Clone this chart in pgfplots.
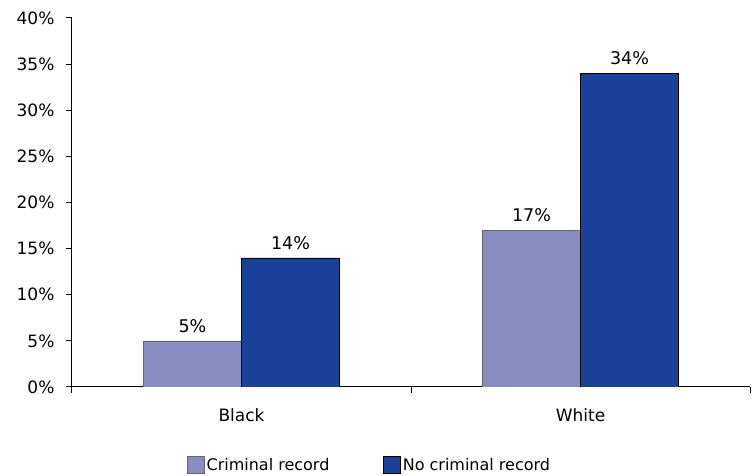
\documentclass[border=0pt]{standalone}
\usepackage{pgfplots}
\pgfplotsset{compat=1.18}
\usepackage{fontspec}
\setmainfont{DejaVu Sans}
\definecolor{crim}{HTML}{8A8DC2}
\definecolor{nocrim}{HTML}{1B4299}
\begin{document}
\begin{tikzpicture}[x=1pt,y=1pt]
\begin{axis}[
  scale only axis,
  width=678pt, height=369pt,
  xmin=-0.5, xmax=1.5,
  ymin=0, ymax=40,
  ytick={0,5,...,40},
  yticklabel={\pgfmathprintnumber{\tick}\%},
  xtick={0,1},
  xticklabels={Black,White},
  minor xtick={-0.5,0.5,1.5},
  major x tick style={draw=none},
  minor x tick style={black, line width=1pt},
  tick align=outside,
  xtick pos=bottom, ytick pos=left,
  major tick length=6pt, minor tick length=6pt,
  y tick style={black, line width=1pt},
  axis x line*=bottom, axis y line*=left,
  axis line style={black, line width=1pt},
  ticklabel style={font=\fontsize{17}{20}\selectfont},
  xticklabel style={font=\fontsize{17}{20}\selectfont, yshift=-12pt},
  yticklabel style={xshift=-8pt},
  /pgf/number format/assume math mode=true,
  ybar=0pt, bar width=98pt,
  enlargelimits=false,
  nodes near coords={\pgfmathprintnumber{\pgfplotspointmeta}\%},
  nodes near coords style={font=\fontsize{17.5}{20}\selectfont, yshift=5pt},
  legend style={at={(0.439,-0.211)}, anchor=center, draw=none,
    font=\fontsize{16}{19}\selectfont, legend columns=2,
    /tikz/every even column/.append style={column sep=52pt}},
  legend image code/.code={\draw[#1] (0pt,-8pt) rectangle (17pt,9pt);},
]
\addplot[fill=crim, draw=gray!80!black] coordinates {(0,5) (1,17)};
\addplot[fill=nocrim, draw=black] coordinates {(0,14) (1,34)};
\legend{Criminal record, No criminal record}
\end{axis}
\path (current axis.south west) ++(-72pt,-87pt) coordinate (a);
\path (current axis.north east) ++(6pt,18pt) coordinate (b);
\useasboundingbox (a) rectangle (b);
\end{tikzpicture}
\end{document}
